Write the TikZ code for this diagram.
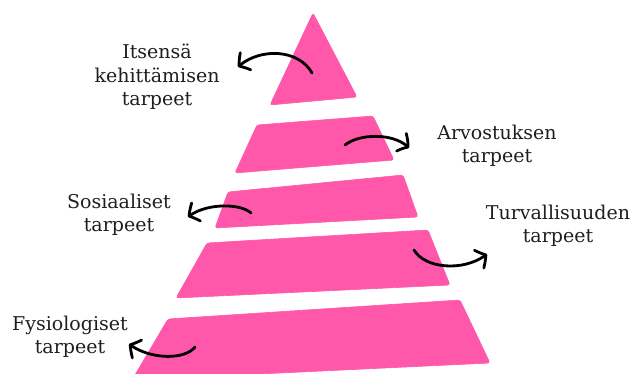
\documentclass[tikz,border=0pt]{standalone}
\usepackage{fontspec}
\setmainfont{DejaVu Serif}
\usetikzlibrary{arrows.meta,bending}
\definecolor{pinkband}{RGB}{255,87,170}
\definecolor{txtgray}{RGB}{30,30,30}
\tikzset{
  band/.style={fill=pinkband, draw=pinkband, line width=0.6pt, rounded corners=2.5pt},
  lbl/.style={align=center, text=txtgray, inner sep=0pt, font=\fontsize{19}{23.5}\selectfont},
  arr/.style={draw=black, line width=2.8pt, line cap=round, -{Straight Barb[length=8pt,width=20pt,round,bend]}}
}
\begin{document}
\begin{tikzpicture}[x=1pt,y=-1pt]
\useasboundingbox (0,0) rectangle (637,374);
\clip (0,0) rectangle (637,374);
% pyramid
\path[band] (313,13) -- (357,97) -- (270,105) -- cycle;
\path[band] (257,125) -- (373,116) -- (394,160) -- (235,173) -- cycle;
\path[band] (228,192) -- (403,175) -- (418,217) -- (215,228) -- cycle;
\path[band] (207,243) -- (428,230) -- (450,285) -- (176,298) -- cycle;
\path[band] (168,319) -- (460,300) -- (490,363) -- (132,380) -- cycle;
% labels
\node[lbl] (itse) at (157,77) {Itsensä\\kehittämisen\\tarpeet};
\node[lbl] (arvo) at (497,146) {Arvostuksen\\tarpeet};
\node[lbl] (sosi) at (119,215) {Sosiaaliset\\tarpeet};
\node[lbl] (turv) at (558,226) {Turvallisuuden\\tarpeet};
\node[lbl] (fysi) at (70,337) {Fysiologiset\\tarpeet};
% arrow ends
\coordinate (a1s) at (312,73); \coordinate (a1e) at (238,67);
\coordinate (a2s) at (345,145); \coordinate (a2e) at (409,148);
\coordinate (a3s) at (251,213); \coordinate (a3e) at (188,217);
\coordinate (a4s) at (414,250); \coordinate (a4e) at (487,254);
\coordinate (a5s) at (195,347); \coordinate (a5e) at (129,344);
% arrows
\draw[arr] (a1s) .. controls (298,48) and (258,48) .. (a1e);
\draw[arr] (a2s) .. controls (360,133) and (395,133) .. (a2e);
\draw[arr] (a3s) .. controls (240,203) and (205,203) .. (a3e);
\draw[arr] (a4s) .. controls (425,269) and (465,272) .. (a4e);
\draw[arr] (a5s) .. controls (185,360) and (150,360) .. (a5e);
\end{tikzpicture}
\end{document}
